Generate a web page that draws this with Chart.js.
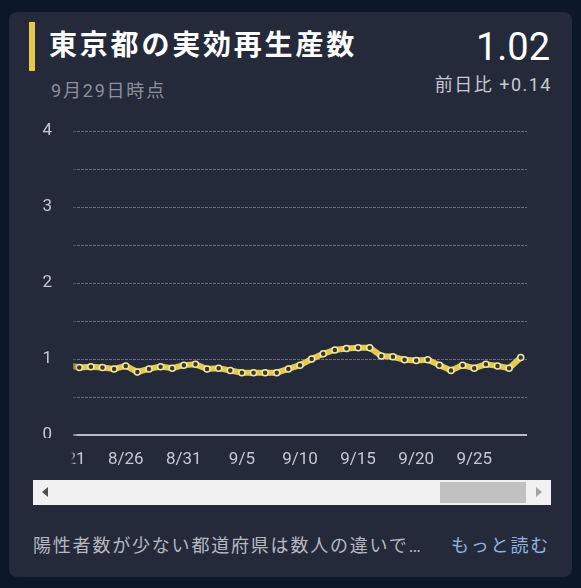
<!DOCTYPE html>
<html lang="ja">
<head>
<meta charset="utf-8">
<title>東京都の実効再生産数</title>
<script src="https://cdn.jsdelivr.net/npm/chart.js@4.4.1/dist/chart.umd.min.js"></script>
<style>
  html, body { margin: 0; padding: 0; }
  body {
    width: 581px; height: 588px; position: relative; overflow: hidden;
    background: #0c1827;
    font-family: Roboto, "Noto Sans CJK JP", sans-serif;
  }
  .card { position: absolute; left: 9px; top: 12px; width: 563px; height: 565px; background: #252a3b; border-radius: 8px; }
  .bar { position: absolute; left: 29px; top: 22px; width: 6px; height: 49px; background: #e6c84a; }
  .title { position: absolute; left: 49px; top: 32px; font-size: 28px; line-height: 28px; font-weight: 700; letter-spacing: 2.8px; color: #ffffff; white-space: nowrap; }
  .sub { position: absolute; left: 51px; top: 82px; font-size: 18px; line-height: 18px; letter-spacing: 1.8px; color: #8b909c; white-space: nowrap; }
  .value { position: absolute; right: 31px; top: 28px; font-size: 38px; line-height: 38px; color: #ffffff; white-space: nowrap; }
  .diff { position: absolute; right: 29px; top: 76px; font-size: 18px; line-height: 18px; letter-spacing: 1.5px; color: #c5c9d1; white-space: nowrap; }
  #chart { position: absolute; left: 0; top: 100px; }
  .scroll { position: absolute; left: 33px; top: 480px; width: 518px; height: 25px; background: #f1f1f1; }
  .thumb { position: absolute; left: 407px; top: 2px; width: 86px; height: 21px; background: #c1c1c1; }
  .arrow-l { position: absolute; left: 9px; top: 7px; width: 0; height: 0; border-top: 5px solid transparent; border-bottom: 5px solid transparent; border-right: 6px solid #505050; }
  .arrow-r { position: absolute; left: 503px; top: 7px; width: 0; height: 0; border-top: 5px solid transparent; border-bottom: 5px solid transparent; border-left: 6px solid #a3a3a3; }
  .note { position: absolute; left: 33px; top: 537px; font-size: 18px; line-height: 18px; letter-spacing: 1.8px; color: #b5b9c3; white-space: nowrap; }
  .more { position: absolute; right: 31px; top: 537px; font-size: 18px; line-height: 18px; letter-spacing: 1.8px; color: #8fb3e0; white-space: nowrap; }
</style>
</head>
<body>
  <div class="card"></div>
  <div class="bar"></div>
  <div class="title">東京都の実効再生産数</div>
  <div class="sub">9月29日時点</div>
  <div class="value">1.02</div>
  <div class="diff">前日比 +0.14</div>
  <canvas id="chart" width="581" height="380"></canvas>
  <div class="scroll">
    <div class="arrow-l"></div>
    <div class="thumb"></div>
    <div class="arrow-r"></div>
  </div>
  <div class="note">陽性者数が少ない都道府県は数人の違いで…</div>
  <div class="more">もっと読む</div>

<script>
  // Data (8/21 is just scrolled out of view on the left)
  const dates = [
    '8/21', '8/22', '8/23', '8/24', '8/25', '8/26', '8/27', '8/28', '8/29', '8/30',
    '8/31', '9/1', '9/2', '9/3', '9/4', '9/5', '9/6', '9/7', '9/8', '9/9',
    '9/10', '9/11', '9/12', '9/13', '9/14', '9/15', '9/16', '9/17', '9/18', '9/19',
    '9/20', '9/21', '9/22', '9/23', '9/24', '9/25', '9/26', '9/27', '9/28', '9/29'
  ];
  const rt = [
    0.92, 0.89, 0.90, 0.89, 0.87, 0.91, 0.83, 0.87, 0.90, 0.88,
    0.92, 0.93, 0.87, 0.88, 0.85, 0.82, 0.82, 0.82, 0.82, 0.87,
    0.92, 1.00, 1.07, 1.12, 1.14, 1.15, 1.15, 1.04, 1.03, 0.99,
    0.98, 0.99, 0.92, 0.85, 0.92, 0.88, 0.93, 0.91, 0.88, 1.02
  ];
  const xTickLabels = ['8/21', '8/26', '8/31', '9/5', '9/10', '9/15', '9/20', '9/25'];
  const yTickLabels = [0, 1, 2, 3, 4];

  const cardBg = '37, 42, 59';
  const labelColor = '#c4c8d0';

  // scroll-edge fade on the left of the plot
  const edgeFade = {
    id: 'edgeFade',
    afterDraw(chart) {
      const { ctx, chartArea, scales } = chart;
      const x0 = chartArea.left;
      ctx.save();
      let g = ctx.createLinearGradient(x0 - 4, 0, x0 + 5, 0);
      g.addColorStop(0, `rgba(${cardBg}, 1)`);
      g.addColorStop(1, `rgba(${cardBg}, 0)`);
      ctx.fillStyle = g;
      ctx.fillRect(x0 - 4, chartArea.top - 8, 9, chartArea.bottom - chartArea.top + 12);

      // the tick label row is cut where the scroll area starts
      g = ctx.createLinearGradient(x0 - 2, 0, x0 + 2, 0);
      g.addColorStop(0, `rgba(${cardBg}, 1)`);
      g.addColorStop(1, `rgba(${cardBg}, 0)`);
      ctx.fillStyle = `rgb(${cardBg})`;
      ctx.fillRect(9, scales.x.top + 3, x0 - 11, scales.x.height - 3);
      ctx.fillStyle = g;
      ctx.fillRect(x0 - 2, scales.x.top + 3, 4, scales.x.height - 3);
      ctx.restore();
    }
  };

  Chart.defaults.font.family = 'Roboto, "Noto Sans CJK JP", sans-serif';

  new Chart(document.getElementById('chart'), {
    type: 'line',
    data: {
      datasets: [{
        data: rt.map((v, i) => ({ x: i, y: v })),
        borderColor: '#e3c94e',
        borderWidth: 6,
        tension: 0,
        pointRadius: 3,
        pointBorderWidth: 1.5,
        pointBackgroundColor: '#3a3628',
        pointBorderColor: '#f1e7a6'
      }]
    },
    options: {
      responsive: false,
      animation: false,
      layout: { padding: { top: 28, right: 54, left: 0, bottom: 0 } },
      plugins: { legend: { display: false }, tooltip: { enabled: false } },
      scales: {
        x: {
          type: 'linear',
          min: 0.46,
          max: dates.length - 0.46,
          afterBuildTicks: (scale) => {
            scale.ticks = xTickLabels.map((d) => ({ value: dates.indexOf(d) }));
          },
          afterFit: (scale) => { scale.height = 45; },
          grid: { display: false },
          border: { display: false },
          ticks: {
            autoSkip: false,
            maxRotation: 0,
            padding: 7,
            color: labelColor,
            font: { size: 17 },
            callback: (v) => dates[v]
          }
        },
        y: {
          min: 0,
          max: 4,
          afterFit: (scale) => { scale.width = 73; },
          grid: {
            drawTicks: false,
            color: (c) => (c.tick && c.tick.value === 0 ? '#b9bdc7' : '#676c80'),
            lineWidth: (c) => (c.tick && c.tick.value === 0 ? 2 : 1)
          },
          border: {
            display: false,
            dash: (c) => (c.tick && c.tick.value === 0 ? [] : [3, 1])
          },
          ticks: {
            stepSize: 0.5,
            padding: 21,
            color: labelColor,
            font: { size: 17 },
            callback: (v) => (yTickLabels.includes(v) ? String(v) : '')
          }
        }
      }
    },
    plugins: [edgeFade]
  });
</script>
</body>
</html>
